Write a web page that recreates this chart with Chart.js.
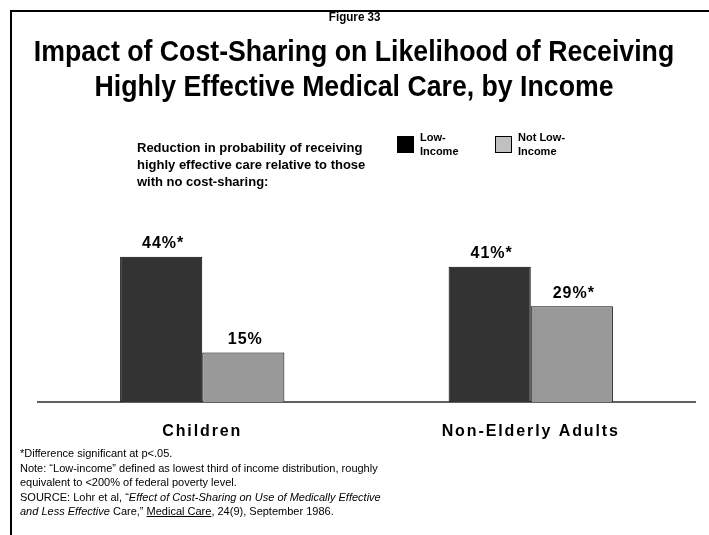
<!DOCTYPE html>
<html>
<head>
<meta charset="utf-8">
<script src="https://cdn.jsdelivr.net/npm/chart.js@4/dist/chart.umd.min.js"></script>
<style>
  html, body { margin: 0; padding: 0; background: #fff; }
  body { width: 709px; height: 535px; position: relative; overflow: hidden; font-family: "Liberation Sans", Arial, sans-serif; }
  #frame { position: absolute; left: 10px; top: 10px; width: 760px; height: 600px; border: 2px solid #000; }
  #chartWrap { position: absolute; left: 0; top: 0; width: 709px; height: 535px; }
  .narrow { font-family: "Liberation Sans", Arial, sans-serif; font-weight: bold; }
  .line { position: absolute; left: 0; width: 709px; text-align: center; white-space: nowrap; }
  .line span { display: inline-block; transform-origin: center; }
  #fig { top: 10px; font-size: 12px; }
  #fig span { transform: scaleX(0.97); }
  .tl { font-size: 29px; line-height: 34px; }
  .tl span { transform: scaleX(0.92); }
  #sub { position: absolute; left: 137px; top: 139px; font-size: 13px; font-weight: bold; line-height: 17px; }
  .leg { position: absolute; top: 130px; font-size: 11px; font-weight: bold; line-height: 14px; }
  .leg .sw { position: absolute; left: 0; top: 6px; width: 15px; height: 15px; border: 1px solid #000; }
  .leg .tx { position: absolute; left: 23px; top: 0; white-space: nowrap; }
  #notes { position: absolute; left: 20px; top: 446px; font-size: 11px; line-height: 14.5px; }
</style>
</head>
<body>
<div id="frame"></div>
<div id="chartWrap"><canvas id="chart" width="709" height="535"></canvas></div>
<div id="fig" class="line narrow"><span>Figure 33</span></div>
<div class="line narrow tl" style="top:34px"><span>Impact of Cost-Sharing on Likelihood of Receiving</span></div>
<div class="line narrow tl" style="top:69px"><span>Highly Effective Medical Care, by Income</span></div>
<div id="sub">Reduction in probability of receiving<br>highly effective care relative to those<br>with no cost-sharing:</div>
<div id="legend"></div>
<div id="notes">
  *Difference significant at p&lt;.05.<br>
  Note: “Low-income” defined as lowest third of income distribution, roughly<br>
  equivalent to &lt;200% of federal poverty level.<br>
  SOURCE: Lohr et al, “<i>Effect of Cost-Sharing on Use of Medically Effective</i><br>
  <i>and Less Effective</i> Care,” <u>Medical Care</u>, 24(9), September 1986.
</div>
<script>
const categories = ['Children', 'Non-Elderly Adults'];
const seriesNames = ['Low-\nIncome', 'Not Low-\nIncome'];
const lowIncome = [44, 41];
const notLowIncome = [15, 29];
const lowSignificant = [true, true];
const notLowSignificant = [false, true];

const barColors = ['#333333', '#999999'];
const legendColors = ['#000000', '#c0c0c0'];
const legendLeft = [397, 495];
const FONT = '"Liberation Sans", Arial, sans-serif';

// legend built from the series names
const legendEl = document.getElementById('legend');
seriesNames.forEach((name, i) => {
    const d = document.createElement('div');
    d.className = 'leg';
    d.style.left = legendLeft[i] + 'px';
    d.innerHTML = '<div class="sw" style="background:' + legendColors[i] + '"></div><div class="tx">' + name.replace('\n', '<br>') + '</div>';
    legendEl.appendChild(d);
});

const sigFlags = [lowSignificant, notLowSignificant];

const valueLabels = {
    id: 'valueLabels',
    afterDatasetsDraw(chart) {
        const ctx = chart.ctx;
        ctx.save();
        ctx.font = 'bold 16px ' + FONT;
        ctx.letterSpacing = '1px';
        ctx.fillStyle = '#000';
        ctx.textAlign = 'center';
        ctx.textBaseline = 'bottom';
        chart.data.datasets.forEach((ds, di) => {
            chart.getDatasetMeta(di).data.forEach((bar, i) => {
                const txt = ds.data[i] + '%' + (sigFlags[di][i] ? '*' : '');
                ctx.fillText(txt, bar.x + 2, bar.y - 5);
            });
        });
        ctx.restore();
    }
};

const spacing = {
    id: 'spacing',
    beforeDraw(chart) { chart.ctx.letterSpacing = '1.9px'; },
    afterDraw(chart) { chart.ctx.letterSpacing = '0px'; }
};

new Chart(document.getElementById('chart').getContext('2d'), {
    type: 'bar',
    data: {
        labels: categories,
        datasets: [
            { label: seriesNames[0], data: lowIncome, backgroundColor: barColors[0], borderColor: '#000', borderWidth: 1 },
            { label: seriesNames[1], data: notLowIncome, backgroundColor: barColors[1], borderColor: '#000', borderWidth: 1 }
        ]
    },
    options: {
        responsive: false,
        animation: false,
        layout: { padding: { left: 38, right: 14, top: 237, bottom: 0 } },
        plugins: { legend: { display: false }, tooltip: { enabled: false } },
        datasets: { bar: { categoryPercentage: 0.5, barPercentage: 1.0 } },
        scales: {
            x: {
                grid: { display: false, drawTicks: false },
                border: { display: true, color: '#606060', width: 2 },
                ticks: { color: '#000', font: { family: FONT, size: 16, weight: 'bold' }, padding: 20 },
                afterFit(scale) { scale.height = 133; }
            },
            y: {
                display: false,
                min: 0,
                max: 50
            }
        }
    },
    plugins: [valueLabels, spacing]
});
</script>
</body>
</html>
